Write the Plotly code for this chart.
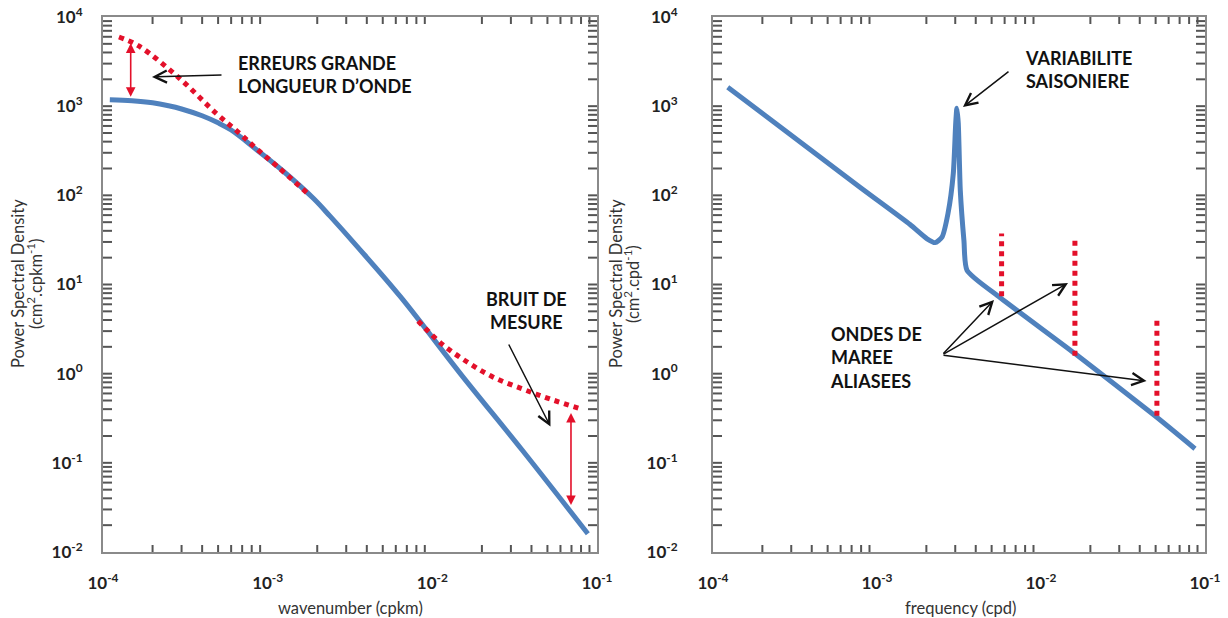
import plotly.graph_objects as go
import math

# ---------------- data ----------------
# Left panel: wavenumber spectrum
k_signal = [1.1e-4, 1.5e-4, 2e-4, 2.5e-4, 3e-4, 4e-4, 5e-4, 6e-4, 8.6e-4, 1.25e-3,
            1.9e-3, 2.4e-3, 3.5e-3, 6.4e-3, 1.5e-2, 3.5e-2, 8.8e-2]
p_signal = [1180, 1150, 1090, 1010, 930, 780, 650, 540, 323, 185,
            92, 58, 26.6, 7.3, 0.97, 0.14, 0.016]

k_longwave = [1.25e-4, 1.65e-4, 2.9e-4, 4.9e-4, 6.8e-4, 8.6e-4, 1.14e-3, 1.76e-3]
p_longwave = [5970, 4730, 2070, 820, 490, 330, 212, 104]

k_noise = [8.2e-3, 1.14e-2, 1.62e-2, 2.33e-2, 3.55e-2, 5.18e-2, 8.1e-2]
p_noise = [3.9, 2.16, 1.36, 0.92, 0.67, 0.52, 0.40]

# Right panel: frequency spectrum
f_signal = [1.23e-4, 7.87e-4, 1.59e-3, 2.02e-3, 2.26e-3, 2.49e-3, 2.71e-3, 2.92e-3,
            3.02e-3, 3.07e-3, 3.13e-3, 3.22e-3, 3.39e-3, 3.54e-3, 5.62e-3, 1.61e-2,
            4.95e-2, 8.69e-2]
pf_signal = [1630, 123, 47, 32.5, 29.5, 34, 62.8, 177,
             644, 950, 644, 114, 31, 14.4, 7.15, 1.68,
             0.337, 0.144]

f_tides = [5.75e-3, 1.61e-2, 5.09e-2]
p_tides_low = [7.4, 1.59, 0.337]
p_tides_high = [37.4, 32, 4.05]

# axes
x_tick_vals = [1e-4, 1e-3, 1e-2, 1e-1]
x_tick_text = ["10<sup>-4</sup>", "10<sup>-3</sup>", "10<sup>-2</sup>", "10<sup>-1</sup>"]
y_tick_vals = [1e-2, 1e-1, 1e0, 1e1, 1e2, 1e3, 1e4]
y_tick_text = ["10<sup>-2</sup>", "10<sup>-1</sup>", "10<sup>0</sup>", "10<sup>1</sup>",
               "10<sup>2</sup>", "10<sup>3</sup>", "10<sup>4</sup>"]
minor_digits = [2, 3, 4, 5, 6, 7, 8, 9]

BLUE = "#4F81BD"
RED = "#E3102A"
FRAME = "#8a8a8a"
TICK = "#555555"
FONT = "Lato"
W, H = 1228, 618

# plot-area geometry in pixels (used for domains and tick-mark lengths)
LEFT_X0, LEFT_X1 = 103, 597
RIGHT_X0, RIGHT_X1 = 713, 1205
Y_TOP, Y_BOT = 17, 552


def px(x):
    return x / W


def py(y):
    return 1 - y / H


# ---- tick marks (drawn as thin lines from the tick values) ----
x_minor = [d * v for v in x_tick_vals[:-1] for d in minor_digits]
y_marks = [d * v for v in y_tick_vals[:-1] for d in [1] + minor_digits][1:]

x_lo, x_hi = x_tick_vals[0], x_tick_vals[-1]
y_lo, y_hi = y_tick_vals[0], y_tick_vals[-1]
x_decades = math.log10(x_hi / x_lo)
y_decades = math.log10(y_hi / y_lo)


def tick_segments(panel_width_px):
    fy = 10 ** (7 * y_decades / (Y_BOT - Y_TOP))        # 7 px long on x axes
    fx = 10 ** (9 * x_decades / panel_width_px)         # 9 px long on y axes
    xs, ys = [], []
    for v in x_minor:
        xs += [v, v, None, v, v, None]
        ys += [y_lo, y_lo * fy, None, y_hi, y_hi / fy, None]
    for v in y_marks:
        xs += [x_lo, x_lo * fx, None, x_hi, x_hi / fx, None]
        ys += [v, v, None, v, v, None]
    return xs, ys


fig = go.Figure()

for xa, ya, wpx in [("x", "y", LEFT_X1 - LEFT_X0), ("x2", "y2", RIGHT_X1 - RIGHT_X0)]:
    tx, ty = tick_segments(wpx)
    fig.add_trace(go.Scatter(x=tx, y=ty, mode="lines", line=dict(color=TICK, width=2),
                             hoverinfo="skip", xaxis=xa, yaxis=ya, showlegend=False,
                             connectgaps=False, cliponaxis=False))

fig.add_trace(go.Scatter(x=k_signal, y=p_signal, mode="lines",
                         line=dict(color=BLUE, width=5, shape="spline", smoothing=1,
                                   simplify=False),
                         xaxis="x", yaxis="y", showlegend=False))
fig.add_trace(go.Scatter(x=k_longwave, y=p_longwave, mode="lines",
                         line=dict(color=RED, width=5, dash="dot", shape="spline", smoothing=1,
                                   simplify=False),
                         xaxis="x", yaxis="y", showlegend=False))
fig.add_trace(go.Scatter(x=k_noise, y=p_noise, mode="lines",
                         line=dict(color=RED, width=5, dash="dot", shape="spline", smoothing=1,
                                   simplify=False),
                         xaxis="x", yaxis="y", showlegend=False))

fig.add_trace(go.Scatter(x=f_signal, y=pf_signal, mode="lines",
                         line=dict(color=BLUE, width=5, shape="spline", smoothing=0.6,
                                   simplify=False),
                         xaxis="x2", yaxis="y2", showlegend=False))
for f, lo, hi in zip(f_tides, p_tides_low, p_tides_high):
    fig.add_trace(go.Scatter(x=[f, f], y=[lo, hi], mode="lines",
                             line=dict(color=RED, width=5, dash="dot"),
                             xaxis="x2", yaxis="y2", showlegend=False))

ydom = [py(Y_BOT), py(Y_TOP)]
tick_font = dict(family=FONT, size=17, color="#222222", weight="bold")


def xaxis_cfg(dom, anchor):
    return dict(type="log", range=[math.log10(x_lo), math.log10(x_hi)], domain=dom,
                anchor=anchor, automargin=False,
                tickmode="array", tickvals=x_tick_vals, ticktext=x_tick_text,
                ticks="", showgrid=False, zeroline=False,
                showline=True, linecolor=FRAME, linewidth=2, mirror=True,
                ticklabelstandoff=15, tickfont=tick_font)


def yaxis_cfg(anchor, standoff):
    return dict(type="log", range=[math.log10(y_lo), math.log10(y_hi)], domain=ydom,
                anchor=anchor, automargin=False,
                tickmode="array", tickvals=y_tick_vals, ticktext=y_tick_text,
                ticks="inside", ticklen=8, tickcolor="rgba(0,0,0,0)",
                showgrid=False, zeroline=False,
                showline=True, linecolor=FRAME, linewidth=2, mirror=True,
                ticklabelstandoff=standoff, tickfont=tick_font)


annotations = []

title_font = dict(family=FONT, size=16.5, color="#333333")
annotations += [
    dict(text="wavenumber (cpkm)", x=px(350), y=py(608)),
    dict(text="frequency (cpd)", x=px(960), y=py(608)),
    dict(text="Power Spectral Density", x=px(18), y=py(284), textangle=-90),
    dict(text="(cm<sup>2</sup>.cpkm<sup>-1</sup>)", x=px(35), y=py(284), textangle=-90),
    dict(text="Power Spectral Density", x=px(616), y=py(284), textangle=-90),
    dict(text="(cm<sup>2</sup>.cpd<sup>-1</sup>)", x=px(632), y=py(284), textangle=-90),
]
for a in annotations:
    a.update(xref="paper", yref="paper", xanchor="center", yanchor="middle",
             showarrow=False, font=title_font)

lab_font = dict(family=FONT, size=18, color="#111111", weight="bold")
annotations += [
    dict(text="ERREURS GRANDE<br>LONGUEUR D\u2019ONDE", x=px(236), y=py(74.5), xref="paper",
         yref="paper", xanchor="left", yanchor="middle", align="left", showarrow=False,
         font=lab_font),
    dict(text="BRUIT DE<br>MESURE", x=px(526), y=py(310), xref="paper", yref="paper",
         xanchor="center", yanchor="middle", align="center", showarrow=False, font=lab_font),
    dict(text="VARIABILITE<br>SAISONIERE", x=px(1023), y=py(70), xref="paper", yref="paper",
         xanchor="left", yanchor="middle", align="left", showarrow=False, font=lab_font),
    dict(text="ONDES DE<br>MAREE<br>ALIASEES", x=px(828), y=py(357.5), xref="paper",
         yref="paper", xanchor="left", yanchor="middle", align="left", showarrow=False,
         font=lab_font),
]

# black pointer arrows (head, tail) in pixels
black_arrows = [((152, 77), (223, 75)),
                ((550.5, 426.5), (508, 343)),
                ((963, 107), (1010, 70.5)),
                ((994, 300), (942, 355)),
                ((1068, 283), (942, 355)),
                ((1146.5, 381), (942, 355))]
for (hx, hy), (tx, ty) in black_arrows:
    annotations.append(dict(x=px(hx), y=py(hy), xref="paper", yref="paper",
                            ax=tx - hx, ay=ty - hy, axref="pixel", ayref="pixel",
                            text="", showarrow=True, arrowhead=5, arrowsize=1.6,
                            arrowwidth=1.5, arrowcolor="#111111"))

# red double arrows (data coords, log units)
red_arrows = [("x", "y", 1.473e-4, 1225, 5070),
              ("x", "y", 0.0695, 0.0324, 0.363)]
for xr, yr, kx, lo, hi in red_arrows:
    annotations.append(dict(x=math.log10(kx), y=math.log10(hi), xref=xr, yref=yr,
                            ax=math.log10(kx), ay=math.log10(lo), axref=xr, ayref=yr,
                            text="", showarrow=True, arrowhead=2, arrowside="end+start",
                            arrowsize=1.2, arrowwidth=1.6, arrowcolor=RED))

fig.update_layout(
    width=W, height=H, margin=dict(l=0, r=0, t=0, b=0, autoexpand=False),
    paper_bgcolor="white", plot_bgcolor="white",
    xaxis=xaxis_cfg([px(LEFT_X0), px(LEFT_X1)], "y"),
    yaxis=yaxis_cfg("x", 15),
    xaxis2=xaxis_cfg([px(RIGHT_X0), px(RIGHT_X1)], "y2"),
    yaxis2=yaxis_cfg("x2", 30),
    annotations=annotations,
    showlegend=False,
    hovermode=False,
)

fig.write_html("out.html")
